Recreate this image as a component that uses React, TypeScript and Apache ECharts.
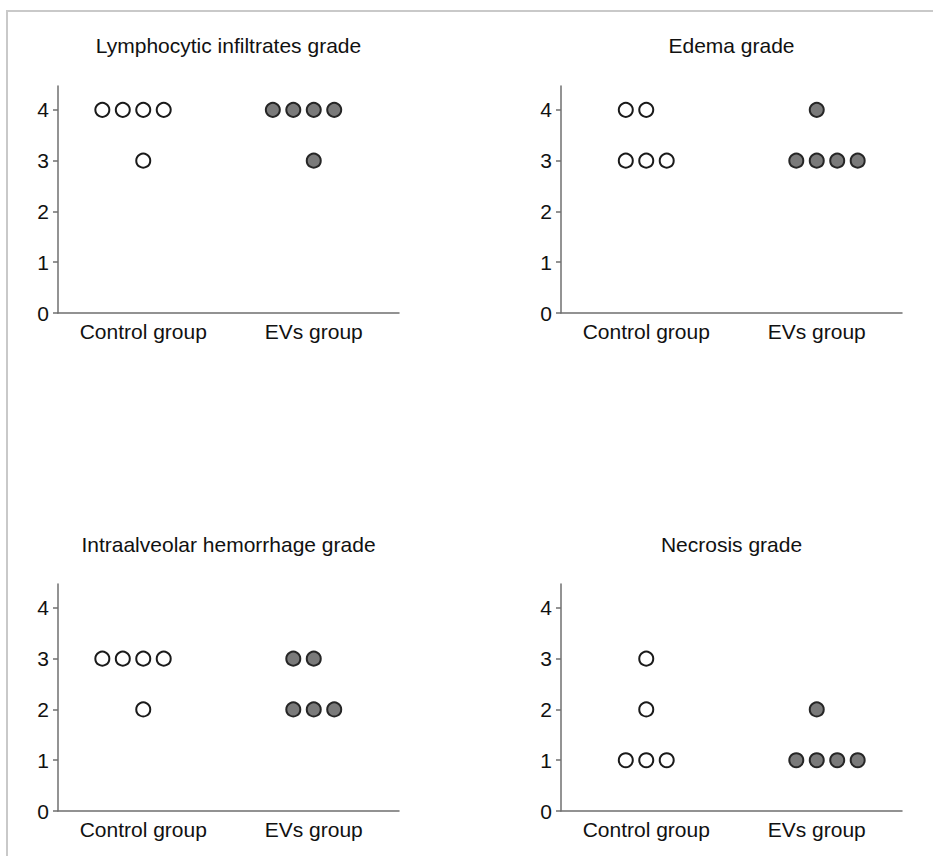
import React, { useEffect, useRef } from "react";
import * as echarts from "echarts";

// ---- Data ----
const CATEGORIES = ["Control group", "EVs group"];
const Y_TICKS = [0, 1, 2, 3, 4];
const PANEL_TITLES = [
  "Lymphocytic infiltrates grade",
  "Edema grade",
  "Intraalveolar hemorrhage grade",
  "Necrosis grade",
];
const LYMPHOCYTIC_CONTROL = [4, 4, 4, 4, 3];
const LYMPHOCYTIC_EVS = [4, 4, 4, 4, 3];
const EDEMA_CONTROL = [4, 4, 3, 3, 3];
const EDEMA_EVS = [4, 3, 3, 3, 3];
const HEMORRHAGE_CONTROL = [3, 3, 3, 3, 2];
const HEMORRHAGE_EVS = [3, 3, 2, 2, 2];
const NECROSIS_CONTROL = [3, 2, 1, 1, 1];
const NECROSIS_EVS = [2, 1, 1, 1, 1];

const PANEL_DATA = [
  [LYMPHOCYTIC_CONTROL, LYMPHOCYTIC_EVS],
  [EDEMA_CONTROL, EDEMA_EVS],
  [HEMORRHAGE_CONTROL, HEMORRHAGE_EVS],
  [NECROSIS_CONTROL, NECROSIS_EVS],
];

// ---- Layout / style ----
const GRID_LEFTS = [58, 561, 58, 561];
const GRID_TOPS = [86, 86, 584, 584];
const GRID_W = 341;
const GRID_H = 227;
const TITLE_TOPS = [35, 35, 534, 534];
const Y_MAX = 4.47;
const DOT_STEP = 0.12; // horizontal spacing of stacked dots (x units)
// whether even-count rows of a group extend to the right of the center
const SHIFT_RIGHT = [
  [false, false],
  [false, true],
  [false, false],
  [false, true],
];
const FONT = "'Liberation Sans', Arial, Helvetica, sans-serif";
const TEXT_COLOR = "#111111";
const AXIS_COLOR = "#6f6f6f";

function placeDots(values: number[], catIndex: number, shiftRight: boolean) {
  const counts: Record<string, number> = {};
  values.forEach((v) => (counts[v] = (counts[v] || 0) + 1));
  const seen: Record<string, number> = {};
  return values.map((v) => {
    const k = counts[v];
    const i = seen[v] || 0;
    seen[v] = i + 1;
    const start = shiftRight ? Math.floor((k - 1) / 2) : Math.ceil((k - 1) / 2);
    return [catIndex + 1 + (i - start) * DOT_STEP, v];
  });
}

export default function App() {
  const ref = useRef<HTMLDivElement>(null);

  useEffect(() => {
    document.body.style.margin = "0";
    document.body.style.overflow = "hidden";
    if (!ref.current) return;
    const chart = echarts.init(ref.current, null, { renderer: "svg" });

    const grid: any[] = [];
    const xAxis: any[] = [];
    const yAxis: any[] = [];
    const series: any[] = [];
    const title: any[] = [];

    PANEL_TITLES.forEach((t, p) => {
      grid.push({
        left: GRID_LEFTS[p],
        top: GRID_TOPS[p],
        width: GRID_W,
        height: GRID_H,
        containLabel: false,
      });
      title.push({
        text: t,
        left: GRID_LEFTS[p] + GRID_W / 2,
        top: TITLE_TOPS[p],
        textAlign: "center",
        padding: 0,
        textStyle: {
          fontFamily: FONT,
          fontSize: 21,
          fontWeight: "normal",
          color: TEXT_COLOR,
        },
      });
      xAxis.push({
        type: "value",
        gridIndex: p,
        min: 0.5,
        max: 2.5,
        splitLine: { show: false },
        axisLine: { show: true, onZero: false, lineStyle: { color: AXIS_COLOR, width: 1.5 } },
        axisTick: { show: false },
        axisLabel: {
          customValues: [1, 2],
          formatter: (v: number) => CATEGORIES[Math.round(v) - 1] || "",
          fontFamily: FONT,
          fontSize: 21,
          color: TEXT_COLOR,
          margin: 8,
        },
      });
      yAxis.push({
        type: "value",
        gridIndex: p,
        min: 0,
        max: Y_MAX,
        splitLine: { show: false },
        axisLine: { show: true, onZero: false, lineStyle: { color: AXIS_COLOR, width: 1.5 } },
        axisTick: {
          show: true,
          customValues: Y_TICKS,
          length: 5,
          lineStyle: { color: AXIS_COLOR, width: 1.5 },
        },
        axisLabel: {
          customValues: Y_TICKS,
          fontFamily: FONT,
          fontSize: 21,
          color: TEXT_COLOR,
          margin: 9,
        },
      });
      PANEL_DATA[p].forEach((vals, g) => {
        series.push({
          type: "scatter",
          xAxisIndex: p,
          yAxisIndex: p,
          symbol: "circle",
          symbolSize: 14,
          data: placeDots(vals, g, SHIFT_RIGHT[p][g]),
          itemStyle:
            g === 0
              ? { color: "#ffffff", borderColor: "#1a1a1a", borderWidth: 2, opacity: 1 }
              : { color: "#7a7a7a", borderColor: "#262626", borderWidth: 2, opacity: 1 },
          emphasis: { disabled: true },
          z: 3,
        });
      });
    });

    chart.setOption({
      animation: false,
      backgroundColor: "#ffffff",
      title,
      grid,
      xAxis,
      yAxis,
      series,
      graphic: [
        {
          type: "polyline",
          shape: { points: [[7, 856], [7, 11], [933, 11]] },
          style: { stroke: "#c9c9c9", lineWidth: 2, fill: null },
          silent: true,
        },
      ],
    });

    return () => chart.dispose();
  }, []);

  return <div ref={ref} style={{ width: 933, height: 856 }} />;
}
